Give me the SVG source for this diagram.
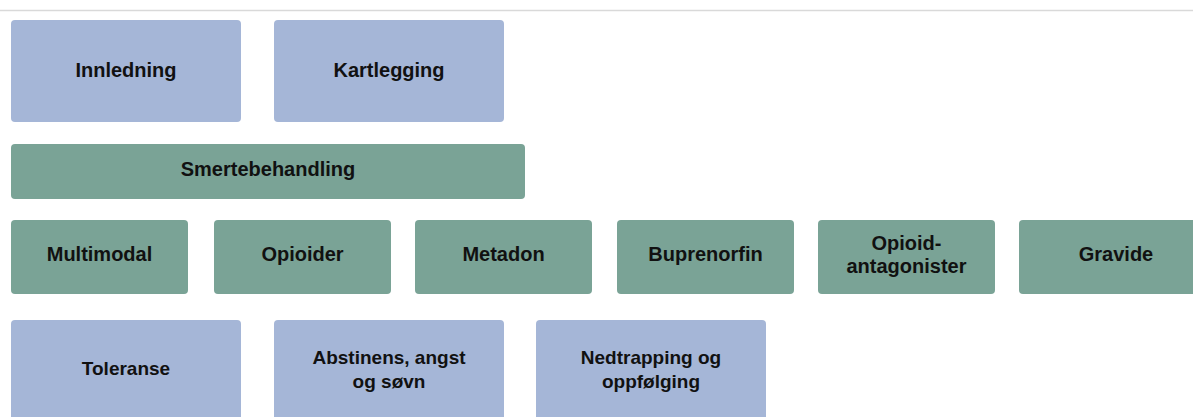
<svg xmlns="http://www.w3.org/2000/svg" width="1193" height="417" viewBox="0 0 1193 417">
  <style>
    .blue { fill: #a5b6d7; }
    .green { fill: #7aa396; }
    .lbl { font-family: "Liberation Sans", Arial, sans-serif; font-weight: bold; font-size: 20px; fill: #111; text-anchor: middle; dominant-baseline: central; }
    .lbl.sm { font-size: 19px; }
  </style>
  <rect width="1193" height="417" fill="#ffffff"/>
  <line x1="0" y1="10.5" x2="1193" y2="10.5" stroke="#d9d9d9" stroke-width="1.5"/>

  <g id="connectors"/>

  <!-- Row 1 -->
  <g id="innledning">
    <rect class="blue" x="11" y="20" width="230" height="102" rx="4"/>
    <text class="lbl" x="126" y="70">Innledning</text>
  </g>
  <g id="kartlegging">
    <rect class="blue" x="274" y="20" width="230" height="102" rx="4"/>
    <text class="lbl" x="389" y="70">Kartlegging</text>
  </g>

  <!-- Row 2 -->
  <g id="smertebehandling">
    <rect class="green" x="11" y="144" width="514" height="55" rx="4"/>
    <text class="lbl" x="268" y="169">Smertebehandling</text>
  </g>

  <!-- Row 3 -->
  <g id="multimodal">
    <rect class="green" x="11" y="220" width="177" height="74" rx="4"/>
    <text class="lbl" x="99.5" y="254">Multimodal</text>
  </g>
  <g id="opioider">
    <rect class="green" x="214" y="220" width="177" height="74" rx="4"/>
    <text class="lbl" x="302.5" y="254">Opioider</text>
  </g>
  <g id="metadon">
    <rect class="green" x="415" y="220" width="177" height="74" rx="4"/>
    <text class="lbl" x="503.5" y="254">Metadon</text>
  </g>
  <g id="buprenorfin">
    <rect class="green" x="617" y="220" width="177" height="74" rx="4"/>
    <text class="lbl" x="705.5" y="254">Buprenorfin</text>
  </g>
  <g id="opioidantagonister">
    <rect class="green" x="818" y="220" width="177" height="74" rx="4"/>
    <text class="lbl" x="906.5" y="243">Opioid-</text>
    <text class="lbl" x="906.5" y="266">antagonister</text>
  </g>
  <g id="gravide">
    <rect class="green" x="1019" y="220" width="185" height="74" rx="4"/>
    <text class="lbl" x="1116" y="254">Gravide</text>
  </g>

  <!-- Row 4 -->
  <g id="toleranse">
    <rect class="blue" x="11" y="320" width="230" height="110" rx="4"/>
    <text class="lbl sm" x="126" y="368">Toleranse</text>
  </g>
  <g id="abstinens">
    <rect class="blue" x="274" y="320" width="230" height="110" rx="4"/>
    <text class="lbl sm" x="389" y="357">Abstinens, angst</text>
    <text class="lbl sm" x="389" y="381">og søvn</text>
  </g>
  <g id="nedtrapping">
    <rect class="blue" x="536" y="320" width="230" height="110" rx="4"/>
    <text class="lbl sm" x="651" y="357">Nedtrapping og</text>
    <text class="lbl sm" x="651" y="381">oppfølging</text>
  </g>
</svg>
